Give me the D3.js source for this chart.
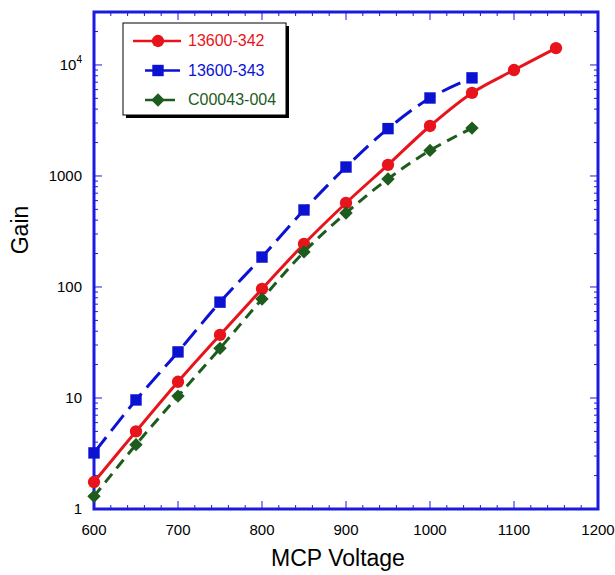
<!DOCTYPE html>
<html>
<head>
<meta charset="utf-8">
<script src="https://cdn.jsdelivr.net/npm/d3@7"></script>
<style>
  body { margin: 0; background: #fff; }
  text { font-family: "Liberation Sans", Arial, sans-serif; }
</style>
</head>
<body>
<div id="chart"></div>
<script>
"use strict";

const voltages = [600, 650, 700, 750, 800, 850, 900, 950, 1000, 1050, 1100, 1150];
const gain342 = [1.75, 5, 14, 37, 96, 244, 571, 1260, 2820, 5600, 9000, 14200];
const gain343 = [3.2, 9.6, 26, 73, 186, 494, 1204, 2670, 5040, 7650];
const gain004 = [1.3, 3.8, 10.4, 28, 78, 207, 464, 940, 1700, 2700];
const seriesNames = ["13600-342", "13600-343", "C00043-004"];
const xTicks = [600, 700, 800, 900, 1000, 1100, 1200];
const yTicks = [1, 10, 100, 1000, 10000];

const width = 615;
const height = 575;
const margin = { top: 12, right: 17, bottom: 66, left: 94 };
const axisColor = "#1a1ae0";

const svg = d3.select("#chart")
  .append("svg")
  .attr("width", width)
  .attr("height", height);

const xScale = d3.scaleLinear()
  .domain([600, 1200])
  .range([margin.left, width - margin.right]);
const yScale = d3.scaleLog()
  .domain([1, 30000])
  .range([height - margin.bottom, margin.top]);

const series = [
  { name: seriesNames[0], values: gain342, color: "#e8141c", dash: null, shape: d3.symbolCircle, size: 120, rot: 0 },
  { name: seriesNames[1], values: gain343, color: "#0c12d2", dash: "20,8", shape: d3.symbolSquare, size: 130, rot: 0 },
  { name: seriesNames[2], values: gain004, color: "#1d5c1d", dash: "11,7", shape: d3.symbolSquare, size: 90, rot: 45 }
];

// minor ticks
const xMinor = d3.range(600, 1201, 20);
const yMinor = [];
for (let e = 0; e < 5; e++) {
  for (let m = 1; m < 10; m++) {
    const v = m * Math.pow(10, e);
    if (v <= 30000) yMinor.push(v);
  }
}

const x0 = margin.left, x1 = width - margin.right;
const y0 = height - margin.bottom, y1 = margin.top;

const ticks = svg.append("g").attr("stroke", axisColor).attr("stroke-width", 1);
xMinor.forEach(v => {
  const len = xTicks.includes(v) ? 8 : 4;
  ticks.append("line").attr("x1", xScale(v)).attr("x2", xScale(v)).attr("y1", y0).attr("y2", y0 - len);
  ticks.append("line").attr("x1", xScale(v)).attr("x2", xScale(v)).attr("y1", y1).attr("y2", y1 + len);
});
yMinor.forEach(v => {
  const len = yTicks.includes(v) ? 8 : 4;
  ticks.append("line").attr("y1", yScale(v)).attr("y2", yScale(v)).attr("x1", x0).attr("x2", x0 + len);
  ticks.append("line").attr("y1", yScale(v)).attr("y2", yScale(v)).attr("x1", x1).attr("x2", x1 - len);
});

svg.append("rect")
  .attr("x", x0).attr("y", y1)
  .attr("width", x1 - x0).attr("height", y0 - y1)
  .attr("fill", "none")
  .attr("stroke", axisColor)
  .attr("stroke-width", 3);

// tick labels
svg.append("g").selectAll("text")
  .data(xTicks)
  .enter()
  .append("text")
  .attr("x", d => xScale(d))
  .attr("y", y0 + 26)
  .attr("text-anchor", "middle")
  .attr("font-size", 15)
  .text(d => d);

const yLab = svg.append("g").selectAll("text")
  .data(yTicks)
  .enter()
  .append("text")
  .attr("x", x0 - 12)
  .attr("y", d => yScale(d) + 5)
  .attr("text-anchor", "end")
  .attr("font-size", 15);
yLab.each(function (d) {
  const t = d3.select(this);
  if (d === 10000) {
    t.append("tspan").text("10");
    t.append("tspan").attr("dy", -7).attr("font-size", 10).text("4");
  } else {
    t.text(d);
  }
});

svg.append("text")
  .attr("x", 338)
  .attr("y", height - 9)
  .attr("text-anchor", "middle")
  .attr("font-size", 23)
  .text("MCP Voltage");

svg.append("text")
  .attr("transform", "translate(28, 230) rotate(-90)")
  .attr("text-anchor", "middle")
  .attr("font-size", 23)
  .text("Gain");

// series
const line = d3.line()
  .x(d => xScale(d[0]))
  .y(d => yScale(d[1]))
  .curve(d3.curveCatmullRom);

series.forEach(s => {
  const pts = s.values.map((v, i) => [voltages[i], v]);
  svg.append("path")
    .datum(pts)
    .attr("d", line)
    .attr("fill", "none")
    .attr("stroke", s.color)
    .attr("stroke-width", 3)
    .attr("stroke-dasharray", s.dash);
  svg.append("g").selectAll("path")
    .data(pts)
    .enter()
    .append("path")
    .attr("transform", d => `translate(${xScale(d[0])},${yScale(d[1])}) rotate(${s.rot})`)
    .attr("d", d3.symbol().type(s.shape).size(s.size))
    .attr("fill", s.color);
});

// legend
const legend = svg.append("g").attr("transform", "translate(123,23)");
legend.append("rect").attr("x", 3).attr("y", 3).attr("width", 163).attr("height", 92).attr("fill", "#000");
legend.append("rect").attr("width", 163).attr("height", 92).attr("fill", "#fff").attr("stroke", "#000").attr("stroke-width", 1);
const legendLines = [[10, 58], [22, 57], [22, 57]];
series.forEach((s, i) => {
  const yy = 18 + i * 29.5;
  legend.append("line")
    .attr("x1", legendLines[i][0]).attr("x2", legendLines[i][1])
    .attr("y1", yy).attr("y2", yy)
    .attr("stroke", s.color)
    .attr("stroke-width", 2.5)
    .attr("stroke-dasharray", i === 2 ? "12,6" : null);
  legend.append("path")
    .attr("transform", `translate(35,${yy}) rotate(${s.rot})`)
    .attr("d", d3.symbol().type(s.shape).size(s.size))
    .attr("fill", s.color);
  legend.append("text")
    .attr("x", 65).attr("y", yy + 5)
    .attr("font-size", 16)
    .attr("fill", s.color)
    .text(s.name);
});
</script>
</body>
</html>
